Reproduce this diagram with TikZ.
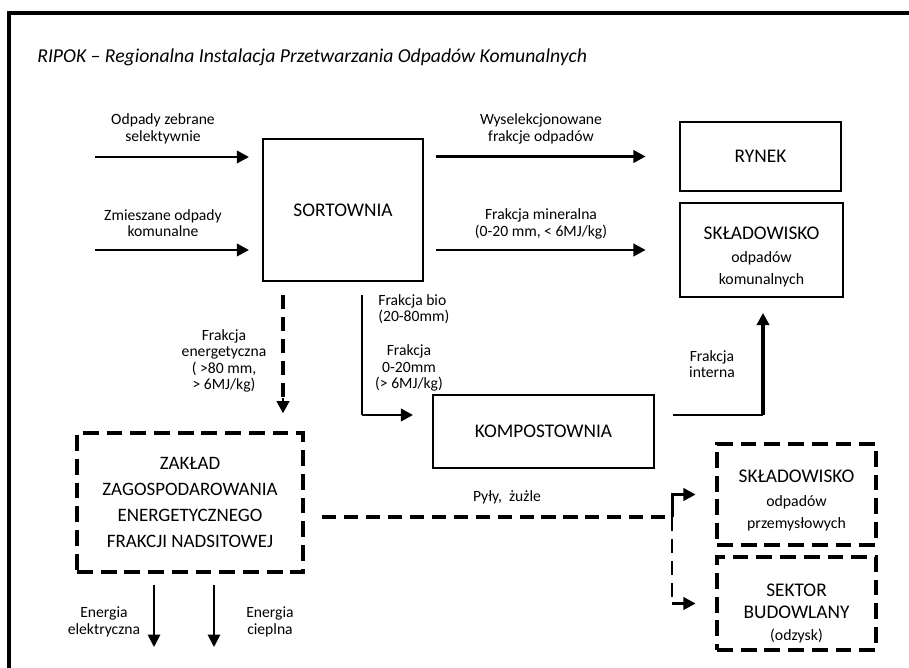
\documentclass[tikz,border=0pt]{standalone}
\usepackage{fontspec}
\setmainfont{Carlito}
\usetikzlibrary{arrows.meta,positioning}
\newcommand{\subfnt}{\fontsize{9}{11}\selectfont}

\begin{document}
\begin{tikzpicture}[x=0.02cm,y=-0.02cm,
  box/.style={draw,line width=1.1pt,inner sep=0pt,align=center,font=\fontsize{11}{12.5}\selectfont},
  dbox/.style={box,line width=2.3pt,dash pattern=on 9pt off 4.5pt},
  btext/.style={align=center,font=\fontsize{11}{12.5}\selectfont,inner sep=0pt},
  lbl/.style={font=\fontsize{8.9}{9.4}\selectfont,align=center,inner sep=0pt},
  tip/.style={-{Triangle[length=7pt,width=7pt]}},
  arr/.style={tip,line width=1.7pt},
  thinarr/.style={tip,line width=1.1pt},
  dline/.style={line width=2pt,dash pattern=on 8pt off 4.5pt}]
\useasboundingbox (0,0) rectangle (909,668);
\draw[line width=2.3pt] (9,668) -- (9,13) -- (909,13);
\node[anchor=base west,inner sep=0pt,font=\fontsize{11.2}{13}\selectfont\itshape] (title) at (37,63)
  {RIPOK – Regionalna Instalacja Przetwarzania Odpadów Komunalnych};

% boxes
\node[box,minimum width=3.2cm,minimum height=2.84cm] (sort) at (343,210) {SORTOWNIA};
\node[box,minimum width=3.22cm,minimum height=1.38cm] (rynek) at (760.5,156.5) {RYNEK};
\node[box,minimum width=3.26cm,minimum height=1.88cm,
  label={[btext,yshift=-4pt]center:{SKŁADOWISKO\\[1pt]{\subfnt odpadów}\\{\subfnt komunalnych}}}] (skladk) at (761.5,250) {};
\node[box,minimum width=4.42cm,minimum height=1.46cm] (komp) at (543.5,431.5) {KOMPOSTOWNIA};
\node[dbox,minimum width=4.52cm,minimum height=2.78cm,font=\fontsize{10.8}{14.7}\selectfont] (zaklad) at (190,502.5)
  {ZAKŁAD\\ZAGOSPODAROWANIA\\ENERGETYCZNEGO\\FRAKCJI NADSITOWEJ};
\node[dbox,minimum width=3.18cm,minimum height=2.02cm,
  label={[btext,yshift=-3.4pt]center:{SKŁADOWISKO\\[1pt]{\subfnt odpadów}\\{\subfnt przemysłowych}}}] (sklp) at (796.5,494.5) {};
\node[dbox,minimum width=3.18cm,minimum height=1.86cm,
  label={[btext,yshift=-5.5pt]center:{SEKTOR\\BUDOWLANY\\{\subfnt (odzysk)}}}] (sekt) at (796.5,603.5) {};

% labels
\node[lbl] (lodp) at (163,129) {Odpady zebrane\\selektywnie};
\node[lbl] (lzm) at (163,223) {Zmieszane odpady\\komunalne};
\node[lbl] (lwys) at (541,129) {Wyselekcjonowane\\frakcje odpadów};
\node[lbl] (lmin) at (541,224) {Frakcja mineralna\\(0-20 mm, < 6MJ/kg)};
\node[lbl] (len) at (224,361) {Frakcja\\energetyczna\\( >80 mm,\\> 6MJ/kg)};
\node[lbl,align=left,anchor=west] (lbio) at (378,309) {Frakcja bio\\(20-80mm)};
\node[lbl] (l020) at (409,368) {Frakcja\\0-20mm\\(> 6MJ/kg)};
\node[lbl] (lint) at (712,364) {Frakcja\\interna};
\node[lbl] (lpyly) at (507,497) {Pyły,\ \ żużle};
\node[lbl] (lee) at (104,622) {Energia\\elektryczna};
\node[lbl] (lec) at (270,622) {Energia\\cieplna};

% free ends and corners
\coordinate (in1) at (95,157);
\coordinate (in2) at (95,250);
\coordinate (enS) at (283,295);
\coordinate (enT) at (283,398);
\coordinate (bioS) at (362,295);
\coordinate (bioK) at (362,415);
\coordinate (intS) at (673,415);
\coordinate (intK) at (763,415);
\coordinate (pk) at (672,517);
\coordinate (sk) at (672,603.5);
\coordinate (ee) at (154,647);
\coordinate (ec) at (214,647);

% connectors
\draw[arr,shorten >=7.4pt] (in1) -- (sort.west |- in1);
\draw[arr,shorten >=7.4pt] (in2) -- (sort.west |- in2);
\draw[arr,shorten <=6.8pt,shorten >=19pt] (sort.east |- rynek) -- (rynek.west);
\draw[arr,shorten <=6.8pt,shorten >=19pt] (sort.east |- skladk) -- (skladk.west);
\draw[dline] (enS) -- (enT);
\draw[arr,shorten >=10pt] (enT) -- (zaklad.north -| enS);
\draw[line width=1.1pt] (bioS) -- (bioK);
\draw[arr,shorten >=10.8pt] (bioK) -- (komp.west |- bioK);
\draw[line width=1.1pt] (intS) -- (intK);
\draw[arr,line width=2.2pt,shorten >=8.5pt] (intK) -- (skladk.south -| intK);
\draw[thinarr,shorten <=6pt] (zaklad.south -| ee) -- (ee);
\draw[thinarr,shorten <=6pt] (zaklad.south -| ec) -- (ec);
\draw[dline,shorten <=9.6pt] (zaklad.east |- pk) -- (pk);
\draw[arr,shorten >=11pt] (pk) |- (sklp.west);
\draw[dline,line width=1.3pt] (pk) -- (sk);
\draw[arr,shorten >=11pt] (sk) -- (sekt.west);
\end{tikzpicture}
\end{document}
